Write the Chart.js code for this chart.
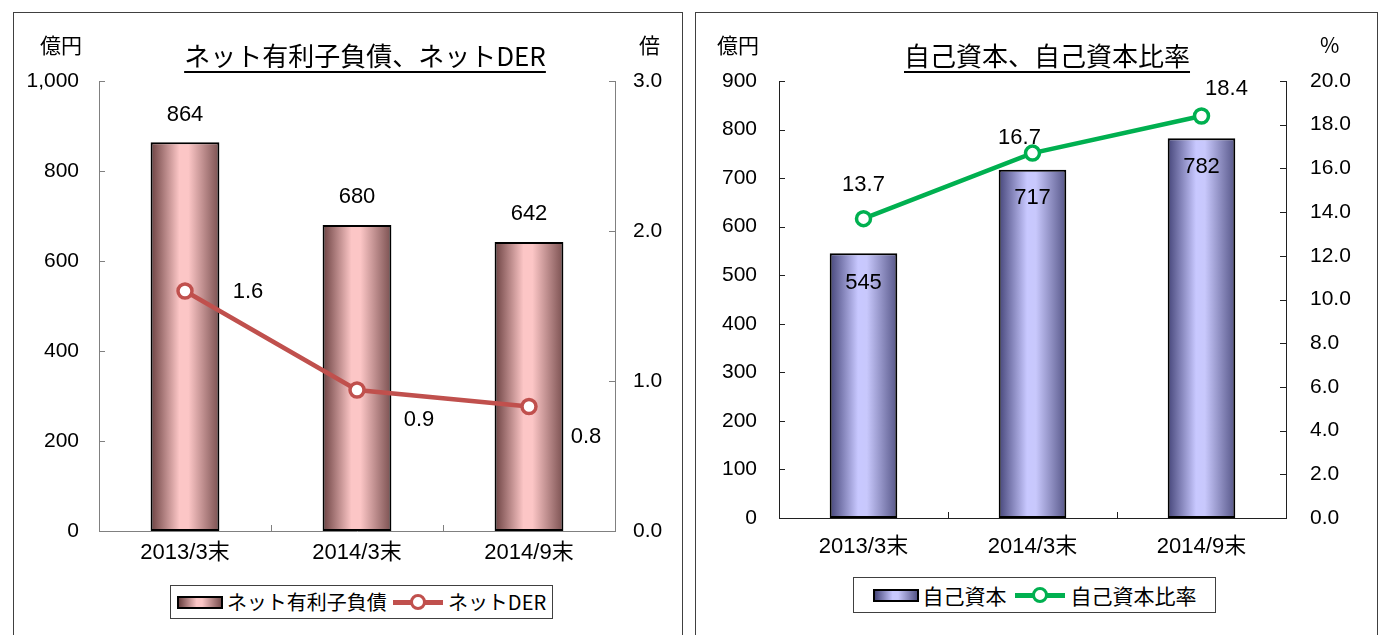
<!DOCTYPE html>
<html>
<head>
<meta charset="utf-8">
<script src="https://cdn.jsdelivr.net/npm/chart.js@4.4.0/dist/chart.umd.min.js"></script>
<style>
  body { margin: 0; width: 1386px; height: 635px; overflow: hidden; background: #fff; position: relative;
         font-family: "Noto Sans CJK JP", sans-serif; color: #000; }
  .panel { position: absolute; top: 12px; height: 640px; border: 1px solid #404040; box-sizing: border-box; }
  #p1 { left: 13px; width: 670px; }
  #p2 { left: 695px; width: 683px; }
  canvas { position: absolute; top: 0; }
  .t { position: absolute; white-space: nowrap; line-height: 1; }
  .title { font-size: 26px; top: 42px; transform: translateX(-50%); text-decoration: underline;
           text-underline-offset: 5px; text-decoration-thickness: 2px; }
  .unit { font-size: 21px; top: 34px; }
  .legend { position: absolute; border: 1px solid #404040; background: #fff; box-sizing: border-box;
            display: flex; align-items: center; justify-content: center; font-size: 21px; line-height: 1;
            white-space: nowrap; }
  .legend span { flex: none; }
  .sw { display: inline-block; width: 42px; height: 9px; border: 2px solid #000; margin-right: 4px; }
  .ln { display: inline-block; position: relative; width: 50px; height: 5px; margin: 0 6px 0 8px; }
  .ln i { position: absolute; left: 17px; top: -6px; width: 10px; height: 10px; border-radius: 50%;
          background: #fff; border: 3px solid; }
</style>
</head>
<body>
<div class="panel" id="p1"></div>
<div class="panel" id="p2"></div>

<canvas id="leftChart" width="690" height="635" style="left:0"></canvas>
<canvas id="rightChart" width="696" height="635" style="left:690px"></canvas>

<div class="t title" style="left:365px">ネット有利子負債、ネットDER</div>
<div class="t unit" style="left:40px">億円</div>
<div class="t unit" style="left:639px">倍</div>
<div class="legend" style="left:170px;top:585px;width:383px;height:34px;font-size:20px">
  <span class="sw" id="sw1"></span><span>ネット有利子負債</span>
  <span class="ln" style="background:#C0504D;margin:0 5px 0 6px"><i style="border-color:#C0504D"></i></span><span>ネットDER</span>
</div>

<div class="t title" style="left:1047px">自己資本、自己資本比率</div>
<div class="t unit" style="left:717px">億円</div>
<div class="t unit" style="left:1320px">%</div>
<div class="legend" style="left:853px;top:577px;width:363px;height:36px">
  <span class="sw" id="sw2"></span><span>自己資本</span>
  <span class="ln" style="background:#00B050"><i style="border-color:#00B050"></i></span><span>自己資本比率</span>
</div>

<script>
const categories = ["2013/3末", "2014/3末", "2014/9末"];
const netDebt = [864, 680, 642];          // 億円
const netDER = [1.6, 0.94, 0.83];         // 倍
const equity = [545, 717, 782];           // 億円
const equityRatio = [13.7, 16.7, 18.4];   // %

const pinkStops = [[0, "#6b4141"], [0.42, "#fcc6c6"], [0.55, "#fcc6c6"], [1, "#7a5050"]];
const blueStops = [[0, "#46467a"], [0.42, "#c8c8ff"], [0.55, "#c8c8fc"], [1, "#565688"]];

const numFont = { family: "'Liberation Sans', 'Noto Sans CJK JP', sans-serif", size: 21 };

document.getElementById("sw1").style.background =
  "linear-gradient(to right," + pinkStops.map(s => s[1] + " " + s[0] * 100 + "%").join(",") + ")";
document.getElementById("sw2").style.background =
  "linear-gradient(to right," + blueStops.map(s => s[1] + " " + s[0] * 100 + "%").join(",") + ")";

function barGradient(stops) {
  return ctx => {
    const chart = ctx.chart;
    const xs = chart.scales.x;
    if (!xs || !chart.chartArea) return stops[1][1];
    const cx = xs.getPixelForValue(ctx.dataIndex);
    const half = xs.width / categories.length * 0.4 / 2;
    const g = chart.ctx.createLinearGradient(cx - half, 0, cx + half, 0);
    stops.forEach(s => g.addColorStop(s[0], s[1]));
    return g;
  };
}

// draws value labels next to each mark, offsets per dataset / point
function labelPlugin(offsets, formats) {
  return {
    id: "valueLabels",
    afterDatasetsDraw(chart) {
      const c = chart.ctx;
      c.save();
      c.font = "22px 'Liberation Sans', sans-serif";
      c.fillStyle = "#000";
      c.textAlign = "center";
      c.textBaseline = "middle";
      chart.data.datasets.forEach((ds, i) => {
        const meta = chart.getDatasetMeta(i);
        meta.data.forEach((el, j) => {
          c.fillText(formats[i](ds.data[j]), el.x + offsets[i][j][0], el.y + offsets[i][j][1]);
        });
      });
      c.restore();
    }
  };
}

// short tick marks pointing into the plot area, like the original
function innerTicks(color) {
  return {
    id: "innerTicks",
    afterDraw(chart) {
      const c = chart.ctx;
      const a = chart.chartArea;
      const len = 6;
      c.save();
      c.strokeStyle = color;
      c.lineWidth = 1;
      c.beginPath();
      chart.scales.y.ticks.forEach(t => {
        const y = Math.round(chart.scales.y.getPixelForValue(t.value)) + 0.5;
        c.moveTo(a.left, y); c.lineTo(a.left + len, y);
      });
      chart.scales.y1.ticks.forEach(t => {
        const y = Math.round(chart.scales.y1.getPixelForValue(t.value)) + 0.5;
        c.moveTo(a.right - len, y); c.lineTo(a.right, y);
      });
      const n = categories.length;
      for (let i = 1; i < n; i++) {
        const x = Math.round(a.left + (a.right - a.left) * i / n) + 0.5;
        c.moveTo(x, a.bottom); c.lineTo(x, a.bottom - len);
      }
      c.stroke();
      c.restore();
    }
  };
}

function fixSize(prop, val) {
  return scale => { scale[prop] = val; };
}

function buildChart(id, opt) {
  const axisColor = opt.axisColor;
  const noGrid = { display: false, drawOnChartArea: false, drawTicks: false };
  return new Chart(document.getElementById(id).getContext("2d"), {
    data: {
      labels: categories,
      datasets: [
        {
          type: "bar",
          data: opt.bars,
          yAxisID: "y",
          order: 2,
          backgroundColor: barGradient(opt.stops),
          borderColor: "#000",
          borderWidth: 2,
          borderSkipped: false,
          barPercentage: 0.4,
          categoryPercentage: 1
        },
        {
          type: "line",
          data: opt.line,
          yAxisID: "y1",
          order: 1,
          borderColor: opt.lineColor,
          borderWidth: 4.5,
          pointRadius: 7,
          pointBorderWidth: 3.5,
          pointBackgroundColor: "#fff",
          pointBorderColor: opt.lineColor,
          tension: 0
        }
      ]
    },
    options: {
      responsive: false,
      animation: false,
      layout: { padding: { top: opt.top, left: 0, right: 0, bottom: 0 } },
      plugins: { legend: { display: false }, tooltip: { enabled: false }, title: { display: false } },
      scales: {
        x: {
          afterFit: fixSize("height", opt.xHeight),
          border: { display: true, color: axisColor, width: 1 },
          grid: noGrid,
          ticks: { color: "#000", font: { family: numFont.family, size: 22 }, padding: opt.xPad }
        },
        y: {
          position: "left",
          min: 0, max: opt.yMax,
          afterFit: fixSize("width", opt.leftW),
          border: { display: true, color: axisColor, width: 1 },
          grid: noGrid,
          ticks: { stepSize: opt.yStep, color: "#000", font: numFont, padding: opt.yPad,
                   callback: v => v.toLocaleString("en-US") }
        },
        y1: {
          position: "right",
          min: 0, max: opt.y1Max,
          afterFit: fixSize("width", opt.rightW),
          border: { display: true, color: axisColor, width: 1 },
          grid: noGrid,
          ticks: { stepSize: opt.y1Step, color: "#000", font: numFont, padding: opt.y1Pad,
                   callback: v => v.toFixed(1) }
        }
      }
    },
    plugins: [labelPlugin(opt.offsets, opt.formats), innerTicks(axisColor)]
  });
}

buildChart("leftChart", {
  bars: netDebt, line: netDER, stops: pinkStops, lineColor: "#C0504D", axisColor: "#808080",
  top: 81, xHeight: 104, leftW: 99, rightW: 75,
  yMax: 1000, yStep: 200, y1Max: 3, y1Step: 1,
  xPad: 9, yPad: 20, y1Pad: 18,
  offsets: [
    [[0, -27], [0, -28], [0, -28]],
    [[63, 1], [62, 30], [57, 30]]
  ],
  formats: [v => String(v), v => (Math.floor(v * 10 + 1e-9) / 10).toFixed(1)]
});

buildChart("rightChart", {
  bars: equity, line: equityRatio, stops: blueStops, lineColor: "#00B050", axisColor: "#202020",
  top: 81, xHeight: 117, leftW: 89, rightW: 100,
  yMax: 900, yStep: 100, y1Max: 20, y1Step: 2,
  xPad: 16, yPad: 22, y1Pad: 24,
  offsets: [
    [[0, 30], [0, 28], [0, 29]],
    [[0, -34], [-13, -15], [25, -27]]
  ],
  formats: [v => String(v), v => v.toFixed(1)]
});
</script>
</body>
</html>
